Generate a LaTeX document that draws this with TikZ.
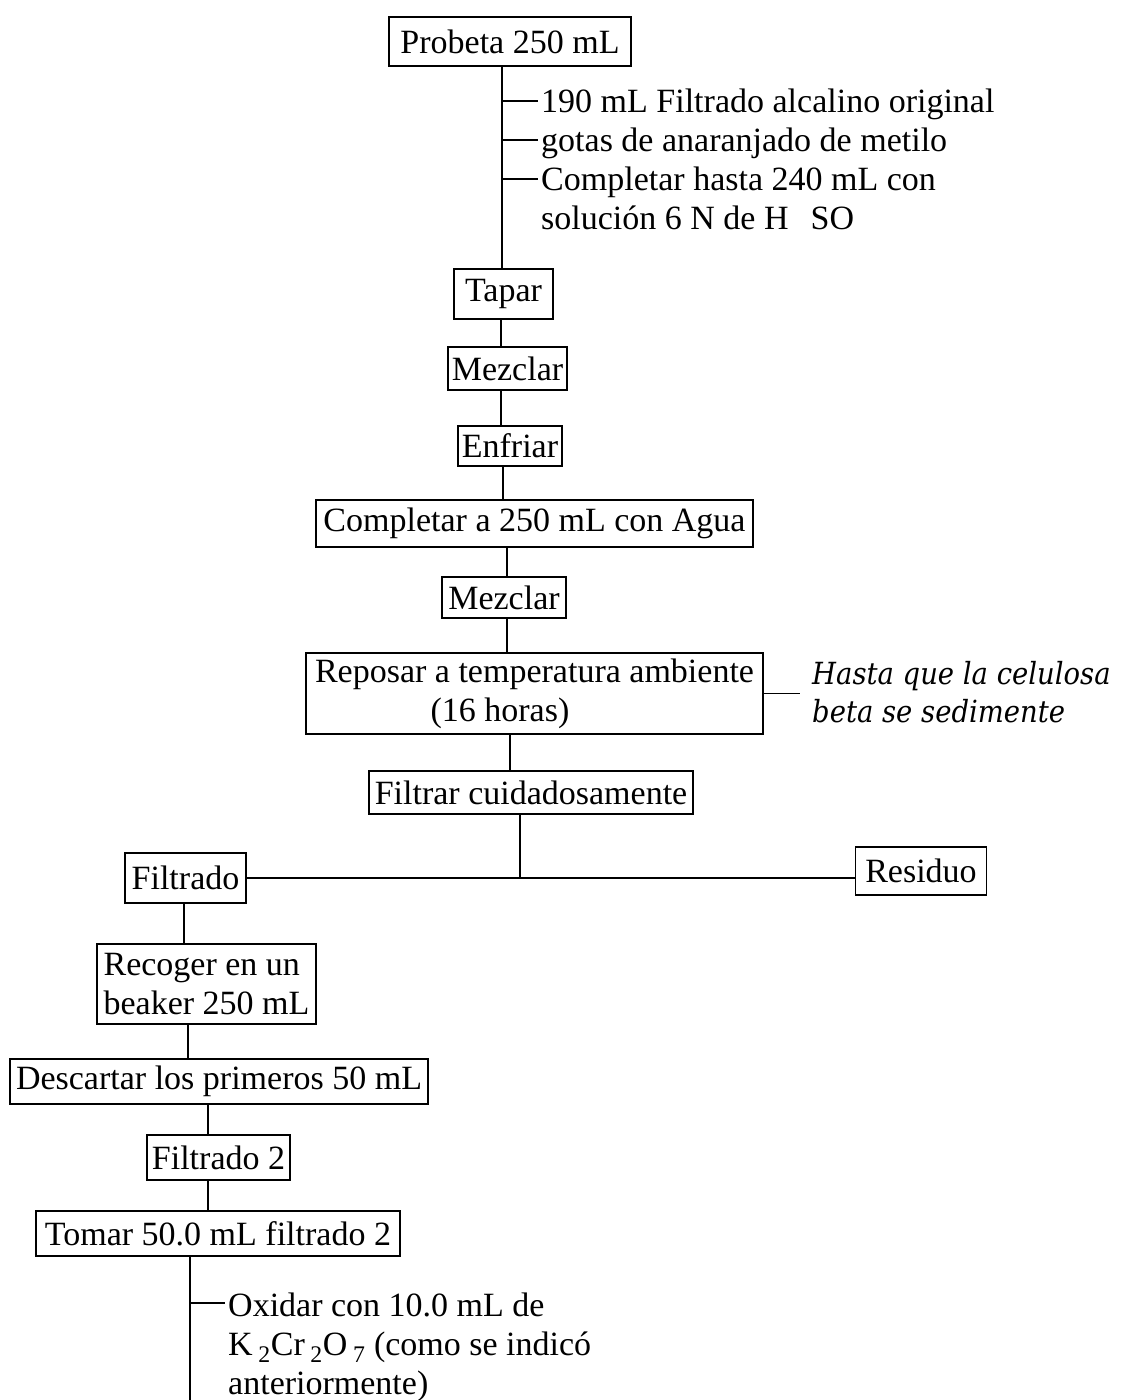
\documentclass[tikz,border=0pt]{standalone}
\usepackage{fontspec}
\setmainfont{Liberation Serif}
\newfontfamily\notefont[FakeStretch=0.9]{DejaVu Serif}
\usetikzlibrary{calc}

\begin{document}
\begin{tikzpicture}[x=1pt,y=-1pt,
  every node/.style={font=\fontsize{34}{39}\selectfont},
  stepbox/.style={draw, line width=1.8pt, inner sep=0pt, align=center},
  link/.style={line width=1.8pt},
  addtext/.style={inner sep=0pt, anchor=north west, align=left},
  notetext/.style={inner sep=0pt, anchor=west, align=left,
    font=\notefont\itshape\fontsize{30.5}{38}\selectfont}
]
\useasboundingbox[fill=white] (0,0) rectangle (1120,1400);

% main sequence of steps
\node[stepbox, minimum width=242pt, minimum height=49pt] (probeta) at (510,41.5) {Probeta 250 mL};
\node[stepbox, minimum width=99pt,  minimum height=50pt] (tapar) at (503.5,294) {Tapar};
\node[stepbox, minimum width=119pt, minimum height=43pt] (mezclarA) at (507.5,368.5) {Mezclar};
\node[stepbox, minimum width=104pt, minimum height=40pt] (enfriar) at (510,446) {Enfriar};
\node[stepbox, minimum width=437pt, minimum height=47pt] (completar) at (534.5,523.5) {Completar a 250 mL con Agua};
\node[stepbox, minimum width=124pt, minimum height=41pt] (mezclarB) at (504,597.5) {Mezclar};
\node[stepbox, minimum width=457pt, minimum height=81pt, align=left] (reposar) at (534.5,693.5)
  {Reposar a temperatura ambiente\\\hspace*{3.4em}(16 horas)};
\node[stepbox, minimum width=324pt, minimum height=43pt] (filtrar) at (531,792.5) {Filtrar cuidadosamente};
\node[stepbox, minimum width=121pt, minimum height=50pt] (filtrado) at (185.5,878) {Filtrado};
\node[stepbox, minimum width=131pt, minimum height=48pt] (residuo) at (921,871) {Residuo};
\node[stepbox, minimum width=219pt, minimum height=80pt, align=left] (recoger) at (206.5,984)
  {Recoger en un\\beaker 250 mL};
\node[stepbox, minimum width=418pt, minimum height=45pt] (descartar) at (219,1081.5) {Descartar los primeros 50 mL};
\node[stepbox, minimum width=143pt, minimum height=45pt] (filtradoB) at (218.5,1157.5) {Filtrado 2};
\node[stepbox, minimum width=364pt, minimum height=45pt] (tomar) at (218,1233.5) {Tomar 50.0 mL filtrado 2};

% additions to the cylinder
\node[addtext] (addA) at (541,85) {\strut 190 mL Filtrado alcalino original};
\node[addtext] (addB) at (541,124) {\strut gotas de anaranjado de metilo};
\node[addtext] (addC) at (541,163) {\strut Completar hasta 240 mL con\\\strut soluci\'on 6 N de H\hspace{0.65em}SO};

% note on the settling step
\node[notetext] (note) at (812,692) {Hasta que la celulosa\\beta se sedimente};

% oxidation of the aliquot
\node[addtext] (oxidar) at (228,1289) {\strut Oxidar con 10.0 mL de\\
  \strut K\,\textsubscript{2}Cr\,\textsubscript{2}O\,\textsubscript{7} (como se indic\'o\\
  \strut anteriormente)};

% x positions of the vertical connectors
\coordinate (xa) at (502,0);
\coordinate (xb) at (501,0);
\coordinate (xc) at (503,0);
\coordinate (xd) at (507,0);
\coordinate (xe) at (510,0);
\coordinate (xf) at (520,0);
\coordinate (xg) at (184,0);
\coordinate (xh) at (188,0);
\coordinate (xi) at (208,0);
\coordinate (tail) at (190,1400);

\draw[link] (probeta.south -| xa) -- (tapar.north -| xa);
\draw[link] (tapar.south -| xb) -- (mezclarA.north -| xb);
\draw[link] (mezclarA.south -| xb) -- (enfriar.north -| xb);
\draw[link] (enfriar.south -| xc) -- (completar.north -| xc);
\draw[link] (completar.south -| xd) -- (mezclarB.north -| xd);
\draw[link] (mezclarB.south -| xd) -- (reposar.north -| xd);
\draw[link] (reposar.south -| xe) -- (filtrar.north -| xe);
\draw[link] (filtrar.south -| xf) -- (filtrado.east -| xf);
\draw[link] (filtrado.east) -- (residuo.west |- filtrado.east);
\draw[link] (filtrado.south -| xg) -- (recoger.north -| xg);
\draw[link] (recoger.south -| xh) -- (descartar.north -| xh);
\draw[link] (descartar.south -| xi) -- (filtradoB.north -| xi);
\draw[link] (filtradoB.south -| xi) -- (tomar.north -| xi);
\draw[link] (tomar.south -| tail) -- (tail);

% side ticks
\foreach \n in {addA,addB,addC}{
  \coordinate (tk) at ([yshift=-16pt]\n.north west);
  \draw[link] (tk -| xa) -- ([xshift=-3pt]tk);
}
\coordinate (tk) at ([yshift=-14pt]oxidar.north west);
\draw[link] (tk -| tail) -- ([xshift=-3pt]tk);
\draw[link] (reposar.east) -- ([xshift=-12pt]note.west |- reposar.east);
\end{tikzpicture}
\end{document}
